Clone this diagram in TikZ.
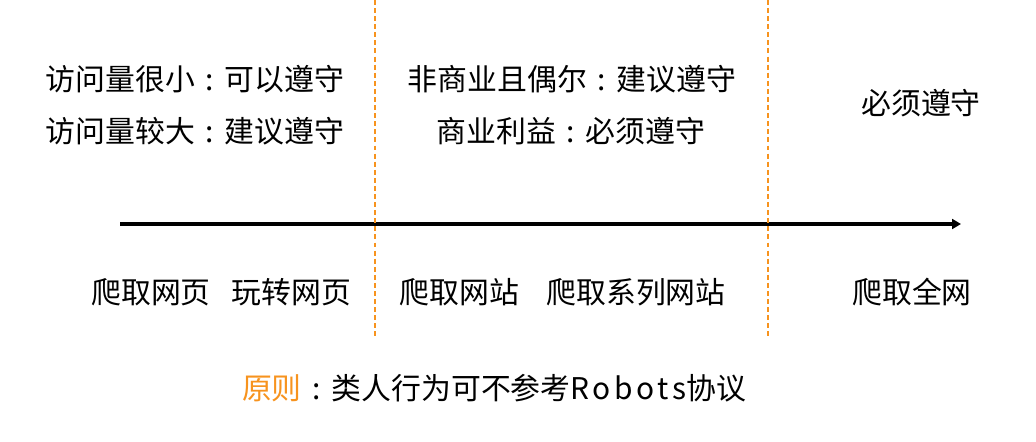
\documentclass[tikz,border=0pt]{standalone}
\usepackage{fontspec}
\newfontfamily\cjk{Noto Sans CJK SC}
\usetikzlibrary{arrows.meta}
\definecolor{markorange}{RGB}{247,147,30}
\newcommand{\colonmark}{\makebox[1em][c]{:}}

\begin{document}
\begin{tikzpicture}[
			every node/.style={font=\cjk\fontsize{17}{20}\selectfont, inner sep=0pt},
			rule/.style={anchor=center},
			scope/.style={anchor=center},
			divider/.style={draw=markorange, line width=1.1pt, dash pattern=on 2.8pt off 1.8pt},
			arrow/.style={-{Triangle[length=5pt,width=5.5pt]}, line width=2pt},
			]
			
			\useasboundingbox (0,0) rectangle (20.72,-8.84);
			
			\node[rule] (small) at (3.90,-1.58) {访问量很小\colonmark 可以遵守};
			\node[rule] (large) at (3.90,-2.62) {访问量较大\colonmark 建议遵守};
			
			\node[rule] (rare) at (11.44,-1.58) {非商业且偶尔\colonmark 建议遵守};
			\node[rule] (profit) at (11.42,-2.62) {商业利益\colonmark 必须遵守};
			
			\node[rule] (must) at (18.42,-2.06) {必须遵守};
			
			\coordinate (start) at (2.40,-4.48);
			\coordinate (end) at (19.22,-4.48);
			\draw[arrow] (start) -- (end);
			
			\node[scope] (page) at (3.02,-5.84) {爬取网页};
			\node[scope] (play) at (5.83,-5.84) {玩转网页};
			\node[scope] (site) at (9.19,-5.84) {爬取网站};
			\node[scope] (series) at (12.72,-5.84) {爬取系列网站};
			\node[scope] (whole) at (18.24,-5.84) {爬取全网};
			
			\coordinate (top1) at (7.50,0);
			\coordinate (bot1) at (7.50,-6.76);
			\coordinate (top2) at (15.36,0);
			\coordinate (bot2) at (15.36,-6.76);
			\draw[divider] (top1) -- (bot1);
			\draw[divider] (top2) -- (bot2);
			
			\node (principle) at (9.88,-7.76) {\textcolor{markorange}{原则}\colonmark 类人行为可不参考{\addfontfeature{LetterSpace=12}Robots}协议};
			
		\end{tikzpicture}
\end{document}
